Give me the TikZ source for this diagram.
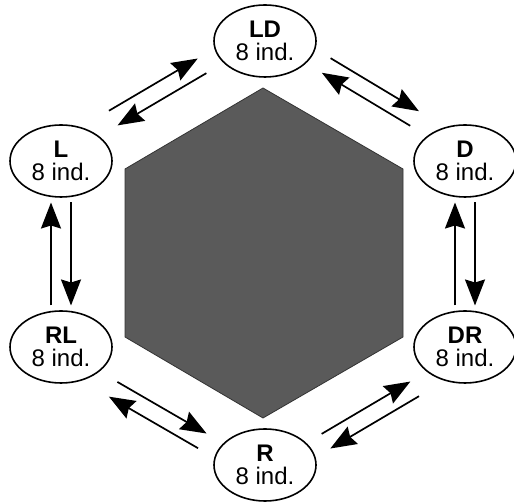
\documentclass[tikz,border=0pt]{standalone}
\usepackage{fontspec}
\setmainfont{Liberation Sans}
\usetikzlibrary{arrows.meta,calc,shapes.geometric}
\definecolor{hexgray}{RGB}{90,90,90}
\tikzset{
  group/.style={ellipse, draw, line width=1.6pt, minimum width=102pt, minimum height=72pt,
    inner sep=0pt, align=center, font=\fontsize{24}{23}\selectfont},
  move/.style={line width=1.7pt, -{Stealth[length=26pt,width=20pt,inset=3pt]}}
}
\newcommand{\grouplabel}[1]{{\bfseries #1}\\8 ind.}

\begin{document}
\begin{tikzpicture}[x=1pt,y=1pt]
        \useasboundingbox (0,0) rectangle (514,502);
        \filldraw[fill=hexgray, draw=black!80, line width=0.8pt]
            (263,414) -- (403,333) -- (403,165) -- (263,84) -- (125,165) -- (125,333) -- cycle;
        \node[group] (LD) at (265,461) {\grouplabel{LD}};
        \node[group] (L) at (61,341) {\grouplabel{L}};
        \node[group] (D) at (465,341) {\grouplabel{D}};
        \node[group] (RL) at (61,155) {\grouplabel{RL}};
        \node[group] (DR) at (465,155) {\grouplabel{DR}};
        \node[group] (R) at (265,37) {\grouplabel{R}};
        % clockwise arrow outside, backward arrow inside
        \foreach \a/\b/\o/\i in {L/LD/19pt/-2pt, LD/D/19pt/-2pt, D/DR/10pt/10pt,
                                 DR/R/19pt/-2pt, R/RL/19pt/-2pt, RL/L/10pt/10pt} {
            \draw[move] ($(\a)!0.5!(\b)!-51.5pt!(\b)!\o!90:(\b)$) -- ($(\a)!0.5!(\b)!51.5pt!(\b)!\o!90:(\b)$);
            \draw[move] ($(\b)!0.5!(\a)!-51.5pt!(\a)!\i!90:(\a)$) -- ($(\b)!0.5!(\a)!51.5pt!(\a)!\i!90:(\a)$);
        }
    \end{tikzpicture}
\end{document}
